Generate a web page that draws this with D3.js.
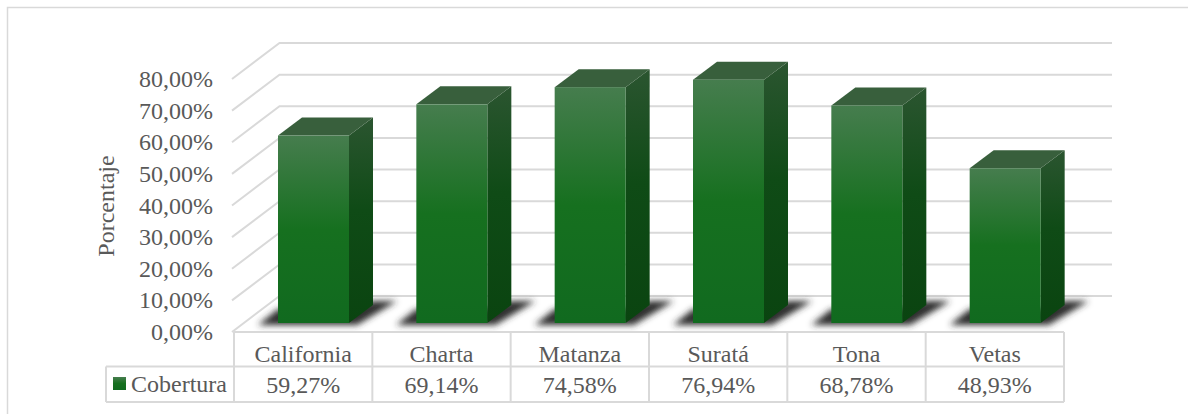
<!DOCTYPE html>
<html><head><meta charset="utf-8">
<script src="https://cdn.jsdelivr.net/npm/d3@7/dist/d3.min.js"></script>
<style>html,body{margin:0;padding:0;background:#fff;overflow:hidden}svg{display:block}text{font-family:"Liberation Serif",serif;fill:#595959}</style>
</head><body><div id="c"></div>
<script>
const categories=["California","Charta","Matanza","Suratá","Tona","Vetas"];
const coverage=[59.27,69.14,74.58,76.94,68.78,48.93];
const coverageLabels=["59,27%","69,14%","74,58%","76,94%","68,78%","48,93%"];
const yTicks=[0,10,20,30,40,50,60,70,80];
const seriesName="Cobertura";
const yTitle="Porcentaje";

const W=1188,H=414;
const svg=d3.select("#c").append("svg").attr("width",W).attr("height",H);
const defs=svg.append("defs");
function grad(id,stops){const g=defs.append("linearGradient").attr("id",id).attr("x1",0).attr("x2",0).attr("y1",0).attr("y2",1);
 stops.forEach(s=>g.append("stop").attr("offset",s[0]).attr("stop-color",s[1]));}
grad("front",[[0,"#467d4e"],[0.5,"#16701f"],[1,"#116a1f"]]);
grad("side",[[0,"#2b5530"],[0.45,"#0f4b16"],[1,"#0a4410"]]);
defs.append("filter").attr("id","blur").attr("x","-30%").attr("y","-60%").attr("width","160%").attr("height","220%")
 .append("feGaussianBlur").attr("stdDeviation",3);

svg.append("path").attr("d","M7.5 414V7.5H1188").attr("fill","none").attr("stroke","#d9d9d9").attr("stroke-width",1.5);

const tableL=234,tableR=1064,rowTop=332,rowMid=366.5,rowBot=402,legL=106;
const x=d3.scaleBand().domain(categories).range([tableL,tableR]);
const y=d3.scaleLinear().domain([0,80]).range([332,79]);
const backDx=47.5,backDy=36,gridR=1112,gc="#d9d9d9";

const g=svg.append("g").attr("fill","none").attr("stroke",gc).attr("stroke-width",2);
yTicks.forEach(t=>{const yy=y(t);
 g.append("path").attr("d",`M232 ${yy}L${232+backDx} ${yy-backDy}H${gridR}`);});

svg.append("g").selectAll("text").data(yTicks).join("text")
 .attr("x",213).attr("y",t=>y(t)+8).attr("text-anchor","end").attr("font-size",24)
 .text(t=>d3.format(".2f")(t).replace(".",",")+"%");
svg.append("text").attr("transform","translate(114,206) rotate(-90)").attr("text-anchor","middle").attr("font-size",24).text(yTitle);

const barW=71,depthX=24,depthY=18,floorDy=9,barInset=44;
const h=v=>y(0)-y(v);
const bars=svg.append("g");
const data=categories.map((c,i)=>({c,v:coverage[i]}));
bars.selectAll("path.sh").data(data).join("path").attr("class","sh")
 .attr("d",d=>{const x0=x(d.c)+barInset,x1=x0+barW,yb=y(0)-floorDy;
  return `M${x0-20} ${yb+2}L${x0} ${yb-14}H${x1}L${x1+depthX} ${yb-22}H${x1+depthX+24}L${x1+8} ${yb+2}Z`;})
 .attr("fill","#2e2e2e").attr("filter","url(#blur)");
const bg=bars.selectAll("g.b").data(data).join("g").attr("class","b");
bg.append("path").attr("fill","url(#side)")
 .attr("d",d=>{const x1=x(d.c)+barInset+barW,yb=y(0)-floorDy,yt=yb-h(d.v);
  return `M${x1} ${yb}V${yt}L${x1+depthX} ${yt-depthY}V${yb-depthY}Z`;});
bg.append("path").attr("fill","#385f3c")
 .attr("d",d=>{const x0=x(d.c)+barInset,x1=x0+barW,yt=y(0)-floorDy-h(d.v);
  return `M${x0} ${yt}L${x0+depthX} ${yt-depthY}H${x1+depthX}L${x1} ${yt}Z`;});
bg.append("rect").attr("fill","url(#front)")
 .attr("x",d=>x(d.c)+barInset).attr("width",barW)
 .attr("y",d=>y(0)-floorDy-h(d.v)).attr("height",d=>h(d.v));

const t=svg.append("g").attr("fill","none").attr("stroke",gc).attr("stroke-width",2);
t.append("path").attr("d",`M${tableL} ${rowTop}H${tableR}M${legL} ${rowMid}H${tableR}M${legL} ${rowBot}H${tableR}M${legL} ${rowMid}V${rowBot}`);
d3.range(7).forEach(i=>{const xx=tableL+i*x.bandwidth();t.append("path").attr("d",`M${xx} ${rowTop}V${rowBot}`);});
svg.append("g").selectAll("text").data(categories).join("text").attr("x",d=>x(d)+x.bandwidth()/2).attr("y",362)
 .attr("text-anchor","middle").attr("font-size",24).text(d=>d);
svg.append("g").selectAll("text").data(coverageLabels).join("text").attr("x",(d,i)=>x(categories[i])+x.bandwidth()/2).attr("y",393)
 .attr("text-anchor","middle").attr("font-size",24).text(d=>d);
svg.append("rect").attr("x",113).attr("y",377).attr("width",13).attr("height",13).attr("fill","url(#front)");
svg.append("text").attr("x",131).attr("y",392).attr("font-size",24).text(seriesName);
</script></body></html>
